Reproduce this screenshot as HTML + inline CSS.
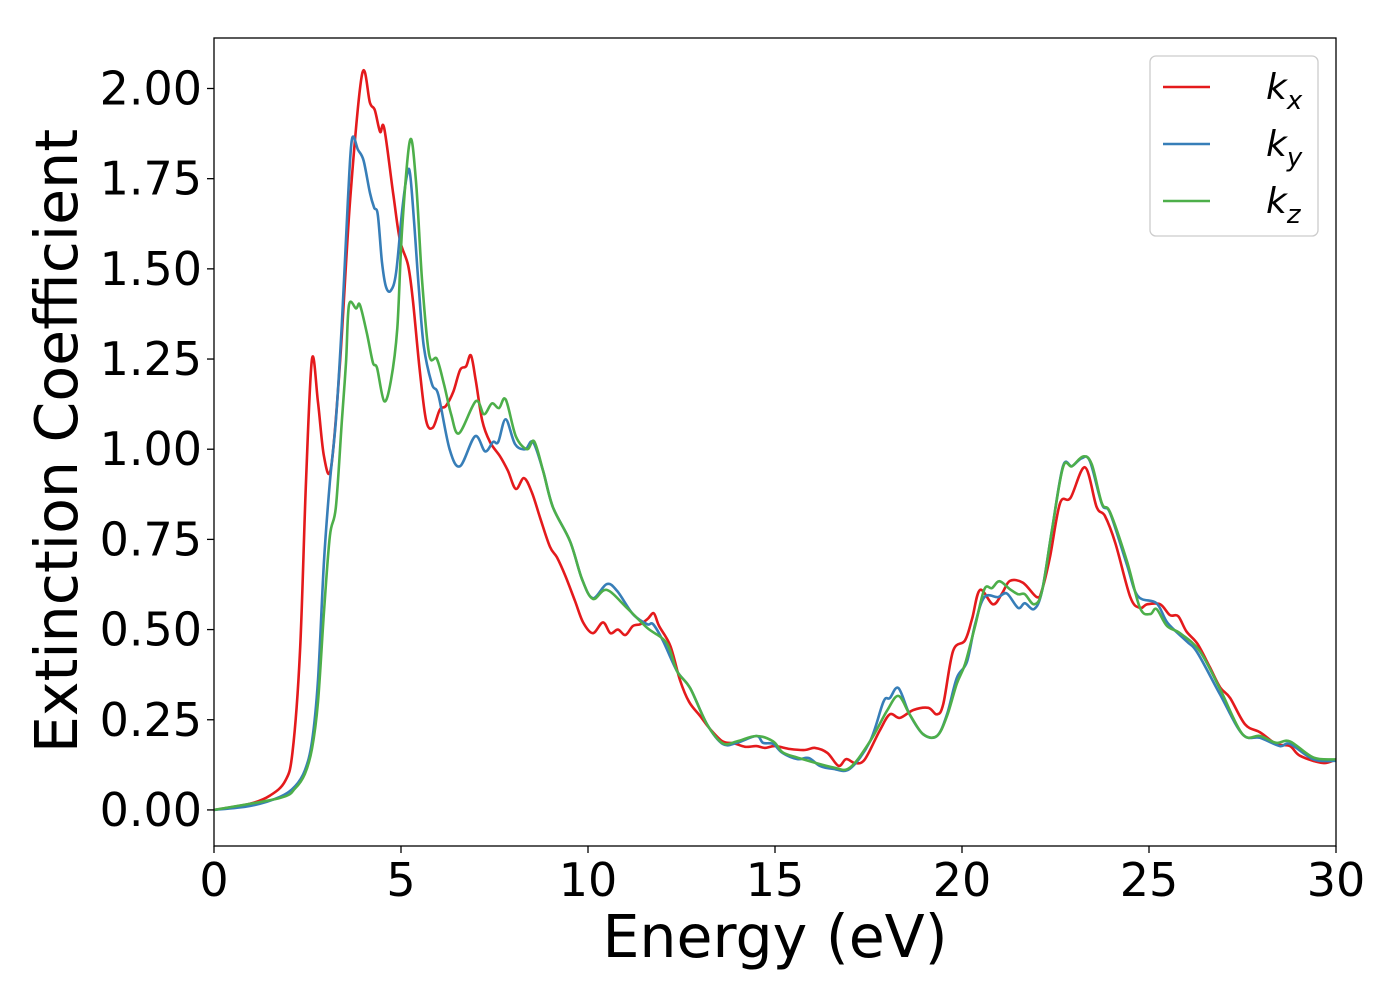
<!DOCTYPE html>
<html><head><meta charset="utf-8"><style>
body{margin:0;background:#fff;}
svg{display:block;font-family:"DejaVu Sans","Liberation Sans",sans-serif;}
</style></head><body>
<svg id="chart" width="1400" height="1000" xmlns="http://www.w3.org/2000/svg">
<rect width="1400" height="1000" fill="#fff"/>
<g id="plot"></g>
<g id="axes"></g>
</svg>
<script>
const xTicks=[0,5,10,15,20,25,30];
const yTicks=[0,0.25,0.5,0.75,1.0,1.25,1.5,1.75,2.0];
const kxE=[0,0.96,1.5,1.9,2.1,2.3,2.46,2.62,2.78,2.94,3.13,3.37,3.64,3.96,4.17,4.3,4.44,4.55,4.79,4.97,5.19,5.32,5.5,5.67,5.85,6.04,6.2,6.4,6.58,6.74,6.87,7.0,7.17,7.38,7.65,7.86,8.07,8.29,8.5,8.72,8.98,9.17,9.39,9.65,9.87,10.13,10.4,10.6,10.8,11.0,11.2,11.4,11.6,11.76,11.9,12.2,12.46,12.7,13,13.26,13.6,13.9,14.2,14.5,14.73,15,15.4,15.8,16.07,16.4,16.7,16.9,17.14,17.4,17.8,18.07,18.34,18.7,19.1,19.33,19.5,19.76,20.08,20.27,20.48,20.83,21.07,21.28,21.63,22.0,22.14,22.35,22.62,22.9,23.29,23.6,23.82,24.1,24.5,24.76,24.95,25.3,25.56,25.78,26.0,26.3,26.63,26.9,27.17,27.57,27.97,28.4,28.77,29.04,29.65,30];
const kxV=[0,0.017,0.04,0.08,0.16,0.44,0.91,1.25,1.13,0.98,0.95,1.24,1.69,2.04,1.96,1.94,1.88,1.89,1.71,1.58,1.51,1.41,1.22,1.08,1.06,1.11,1.12,1.16,1.22,1.23,1.26,1.19,1.08,1.02,0.98,0.94,0.89,0.92,0.88,0.81,0.73,0.70,0.65,0.58,0.52,0.49,0.52,0.49,0.50,0.485,0.51,0.515,0.53,0.545,0.51,0.455,0.36,0.30,0.26,0.225,0.19,0.185,0.175,0.177,0.172,0.177,0.169,0.166,0.172,0.158,0.122,0.141,0.13,0.14,0.22,0.265,0.255,0.277,0.283,0.265,0.294,0.44,0.47,0.53,0.61,0.57,0.60,0.635,0.63,0.59,0.61,0.70,0.85,0.865,0.95,0.84,0.815,0.74,0.59,0.56,0.57,0.57,0.54,0.537,0.495,0.46,0.395,0.34,0.31,0.237,0.215,0.183,0.177,0.15,0.13,0.14];
const kyE=[0,0.96,1.76,2.17,2.43,2.62,2.78,2.94,3.1,3.26,3.42,3.58,3.69,3.85,4.0,4.17,4.28,4.38,4.49,4.6,4.73,4.87,5.03,5.16,5.24,5.35,5.48,5.61,5.83,6.0,6.3,6.58,6.98,7.25,7.46,7.6,7.8,8.05,8.32,8.53,8.8,9.06,9.52,9.84,10.13,10.5,10.78,11.2,11.58,11.74,12.0,12.38,12.73,13.18,13.6,13.98,14.5,14.68,14.95,15.2,15.6,15.9,16.2,16.55,17.0,17.54,17.9,18.07,18.3,18.6,18.96,19.33,19.6,19.86,20.13,20.35,20.6,20.96,21.2,21.5,21.68,21.93,22.14,22.4,22.7,22.94,23.2,23.42,23.74,23.96,24.41,24.7,25.2,25.5,26.0,26.3,26.9,27.5,27.97,28.5,28.77,29.4,30];
const kyV=[0,0.011,0.036,0.066,0.11,0.19,0.36,0.69,0.91,1.08,1.35,1.69,1.86,1.83,1.80,1.71,1.67,1.65,1.52,1.45,1.44,1.49,1.66,1.76,1.765,1.63,1.44,1.285,1.18,1.15,1.0,0.953,1.036,0.994,1.02,1.02,1.083,1.014,1.0,1.02,0.94,0.84,0.745,0.64,0.587,0.626,0.607,0.543,0.515,0.515,0.47,0.385,0.338,0.238,0.183,0.186,0.205,0.186,0.183,0.158,0.141,0.144,0.122,0.114,0.114,0.19,0.30,0.31,0.338,0.265,0.21,0.205,0.265,0.366,0.41,0.515,0.59,0.59,0.6,0.56,0.573,0.557,0.607,0.773,0.953,0.953,0.975,0.967,0.848,0.823,0.68,0.593,0.573,0.518,0.468,0.435,0.32,0.21,0.2,0.177,0.183,0.14,0.136];
const kzE=[0,1.76,2.17,2.43,2.62,2.78,2.94,3.1,3.26,3.42,3.53,3.61,3.8,3.9,4.09,4.25,4.36,4.55,4.73,4.9,5.03,5.24,5.4,5.56,5.75,5.96,6.15,6.34,6.55,7.0,7.22,7.43,7.62,7.8,8.07,8.37,8.56,8.8,9.06,9.52,9.84,10.13,10.5,11.04,11.58,12.1,12.38,12.73,13.18,13.6,13.98,14.5,14.95,15.2,15.6,16.55,17.0,17.54,17.99,18.3,18.6,18.96,19.33,19.6,19.86,20.08,20.35,20.6,20.8,21.0,21.28,21.5,21.68,21.93,22.14,22.4,22.7,22.94,23.24,23.47,23.74,23.96,24.41,24.76,25.03,25.2,25.48,25.83,26.36,26.9,27.5,27.97,28.4,28.77,29.4,30];
const kzV=[0,0.033,0.06,0.1,0.17,0.30,0.55,0.76,0.84,1.08,1.24,1.40,1.39,1.40,1.32,1.24,1.225,1.133,1.19,1.335,1.61,1.856,1.742,1.474,1.263,1.25,1.18,1.097,1.044,1.133,1.097,1.127,1.114,1.138,1.036,1.0,1.022,0.94,0.84,0.745,0.64,0.585,0.61,0.56,0.505,0.463,0.385,0.338,0.238,0.185,0.19,0.205,0.19,0.16,0.145,0.118,0.117,0.19,0.274,0.316,0.265,0.21,0.205,0.26,0.35,0.404,0.51,0.612,0.615,0.634,0.612,0.598,0.598,0.57,0.607,0.773,0.95,0.953,0.98,0.958,0.85,0.825,0.69,0.56,0.543,0.557,0.51,0.49,0.44,0.335,0.21,0.205,0.186,0.19,0.145,0.14];

const L=214,R=1336,T=38,B=846,X0=0,X1=30,Y0=-0.1,Y1=2.14;
const sx=v=>L+(v-X0)/(X1-X0)*(R-L);
const sy=v=>B-(v-Y0)/(Y1-Y0)*(B-T);
const NS='http://www.w3.org/2000/svg';
const plot=document.getElementById('plot'),axes=document.getElementById('axes');
function mk(tag,attrs,parent){const e=document.createElementNS(NS,tag);for(const k in attrs)e.setAttribute(k,attrs[k]);parent.appendChild(e);return e;}
function pathFor(E,V){
  const p=E.map((e,i)=>[sx(e),sy(V[i])]);
  let d='M'+p[0][0].toFixed(1)+','+p[0][1].toFixed(1);
  for(let i=0;i<p.length-1;i++){
    const p0=p[Math.max(0,i-1)],p1=p[i],p2=p[i+1],p3=p[Math.min(p.length-1,i+2)];
    const c1=[p1[0]+(p2[0]-p0[0])/6,p1[1]+(p2[1]-p0[1])/6];
    const c2=[p2[0]-(p3[0]-p1[0])/6,p2[1]-(p3[1]-p1[1])/6];
    d+=' C'+c1[0].toFixed(1)+','+c1[1].toFixed(1)+' '+c2[0].toFixed(1)+','+c2[1].toFixed(1)+' '+p2[0].toFixed(1)+','+p2[1].toFixed(1);
  }
  return d;
}
mk('clipPath',{id:'clip'},plot).appendChild(document.createElementNS(NS,'rect'));
const cr=plot.querySelector('#clip rect');cr.setAttribute('x',L);cr.setAttribute('y',T);cr.setAttribute('width',R-L);cr.setAttribute('height',B-T);
const series=[['kx',kxE,kxV,'#e41a1c'],['ky',kyE,kyV,'#377eb8'],['kz',kzE,kzV,'#4daf4a']];
series.forEach(s=>{
  const el=mk('path',{d:pathFor(s[1],s[2]),fill:'none',stroke:s[3],'stroke-width':2.6,'stroke-linejoin':'round','clip-path':'url(#clip)'},plot);
  
  
});
const frame=mk('rect',{x:L,y:T,width:R-L,height:B-T,fill:'none',stroke:'#000','stroke-width':1.3},axes);


xTicks.forEach(t=>{
  const x=sx(t);
  mk('line',{x1:x,x2:x,y1:B,y2:B+7,stroke:'#000','stroke-width':1.3},axes);
  const tx=mk('text',{x:x,y:896,'text-anchor':'middle','font-size':46,fill:'#000'},axes);
  tx.textContent=t;
  
  
});
yTicks.forEach(t=>{
  const y=sy(t);
  mk('line',{x1:L-7,x2:L,y1:y,y2:y,stroke:'#000','stroke-width':1.3},axes);
  const tx=mk('text',{x:202,y:y+16,'text-anchor':'end','font-size':46,fill:'#000'},axes);
  tx.textContent=t.toFixed(2);
  
  
});
const xt=mk('text',{x:775,y:957,'text-anchor':'middle','font-size':58.5,fill:'#000'},axes);
xt.textContent='Energy (eV)';


const yt=mk('text',{x:0,y:0,'text-anchor':'middle','font-size':58.5,fill:'#000',transform:'translate(77,441) rotate(-90)'},axes);
yt.textContent='Extinction Coefficient';


const lg=mk('g',{},axes);


mk('rect',{x:1150,y:56,width:168,height:180,rx:6,fill:'#fff','fill-opacity':0.8,stroke:'#ccc','stroke-width':1.3},lg);
const subs=['x','y','z'];
series.forEach((s,i)=>{
  const y=87+i*57;
  const ln=mk('line',{x1:1163,x2:1210,y1:y,y2:y,stroke:s[3],'stroke-width':2.6},lg);
  
  
  const tx=mk('text',{x:1266,y:y+12,'font-size':36,'font-style':'italic',fill:'#000'},lg);
  tx.textContent='k';
  const sb=mk('tspan',{dy:10,'font-size':26},tx);
  sb.textContent=subs[i];
  
  
});
</script>
</body></html>
